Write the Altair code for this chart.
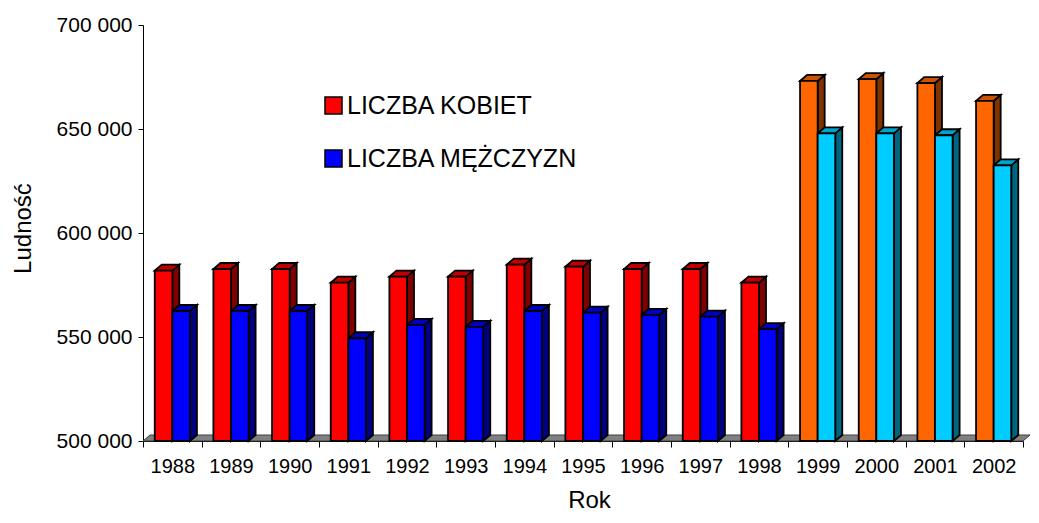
import altair as alt
import pandas as pd

years = list(range(1988, 2003))
kobiety = [581900, 582700, 582700, 576100, 579000, 579000, 584800, 583800,
           582700, 582700, 576100, 673100, 674000, 672100, 663500]
mezczyzni = [562500, 562500, 562500, 549400, 555800, 554900, 562500, 561700,
             560600, 559800, 553800, 647900, 647900, 647000, 632500]
series_names = ["LICZBA KOBIET", "LICZBA MĘŻCZYZN"]
y_ticks = [500000, 550000, 600000, 650000, 700000]

rows = []
for i, yr in enumerate(years):
    rows.append({"i": i, "year": yr, "series": series_names[0], "s": 0, "value": kobiety[i]})
    rows.append({"i": i, "year": yr, "series": series_names[1], "s": 1, "value": mezczyzni[i]})
df = pd.DataFrame(rows)
floor_df = pd.DataFrame({"vv": [0, 1]})

N = len(years)
W, H = 880, 416
BASE = 500000
DX = 7 / (W / N)          # depth in category units
DY = 6 / (H / 200000)     # depth in value units
BAR_START = 0.2
BAR_W = 0.3
SW = 1.8

grp_domain = series_names + [s + " (1999+)" for s in series_names]
front_colors = ["#FF0000", "#0000FF", "#FF6600", "#00CCFF"]
top_colors = ["#C00000", "#0000C0", "#CC5200", "#00A3CC"]
side_colors = ["#800000", "#000080", "#803300", "#006680"]

xscale = alt.Scale(domain=[0, N], nice=False, zero=False)
yscale = alt.Scale(domain=[BASE, 700000], nice=False, zero=False)

xaxis = alt.Axis(
    values=list(range(N + 1)),
    labelExpr=f"datum.value < {N} ? '' + ({years[0]} + datum.value) : ''",
    labelOffset=W / N / 2, labelOverlap=False, labelFlush=False, labelBound=False,
    labelFontSize=20, labelPadding=9, tickSize=6, grid=False,
    domainColor="black", tickColor="black", labelColor="black",
    title="Rok", titleFontSize=24, titleFontWeight="normal", titleColor="black",
    titleX=446, titleY=66, titleAlign="center", titleBaseline="alphabetic",
)
yaxis = alt.Axis(
    values=y_ticks,
    labelExpr="format(floor(datum.value/1000),'d') + ' 000'",
    labelFontSize=21, labelPadding=6, tickSize=5, grid=False,
    domainColor="black", tickColor="black", labelColor="black",
    title="Ludność", titleFontSize=24, titleFontWeight="normal", titleColor="black",
    titleX=-120, titleY=203, titleAngle=-90, titleAlign="center", titleBaseline="middle",
)

base = alt.Chart(df).transform_calculate(
    grp=f"datum.year >= 1999 ? datum.series + ' (1999+)' : datum.series",
    x0=f"datum.i + {BAR_START} + datum.s * {BAR_W}",
    x1=f"datum.i + {BAR_START} + (datum.s + 1) * {BAR_W}",
    b0=f"{BASE}",
    key="datum.year + '-' + datum.series",
)

folded = base.transform_calculate(va="0", vb="1").transform_fold(["va", "vb"], as_=["vk", "vv"])

floor = alt.Chart(floor_df).transform_calculate(
    fy=f"{BASE} + datum.vv * {DY}",
    fx=f"datum.vv * {DX}",
    fx2=f"{N} + datum.vv * {DX}",
).mark_area(orient="horizontal", color="#808080", stroke="#404040", strokeWidth=1).encode(
    y=alt.Y("fy:Q", scale=yscale, axis=yaxis),
    x=alt.X("fx:Q", scale=xscale, axis=xaxis),
    x2="fx2:Q",
)

side = folded.transform_calculate(
    sx=f"datum.x1 + datum.vv * {DX}",
    sy=f"datum.value + datum.vv * {DY}",
    sy2=f"{BASE} + datum.vv * {DY}",
).mark_area(stroke="black", strokeWidth=SW, opacity=1).encode(
    x=alt.X("sx:Q", scale=xscale, axis=xaxis),
    y=alt.Y("sy:Q", scale=yscale, axis=yaxis),
    y2="sy2:Q",
    detail="key:N",
    color=alt.Color("grp:N", scale=alt.Scale(domain=grp_domain, range=side_colors), legend=None),
)

top = folded.transform_calculate(
    ty=f"datum.value + datum.vv * {DY}",
    tx=f"datum.x0 + datum.vv * {DX}",
    tx2=f"datum.x1 + datum.vv * {DX}",
).mark_area(orient="horizontal", stroke="black", strokeWidth=SW, opacity=1).encode(
    y=alt.Y("ty:Q", scale=yscale, axis=yaxis),
    x=alt.X("tx:Q", scale=xscale, axis=xaxis),
    x2="tx2:Q",
    detail="key:N",
    color=alt.Color("grp:N", scale=alt.Scale(domain=grp_domain, range=top_colors), legend=None),
)

front = base.mark_rect(stroke="black", strokeWidth=SW, opacity=1).encode(
    x=alt.X("x0:Q", scale=xscale, axis=xaxis),
    x2="x1:Q",
    y=alt.Y("value:Q", scale=yscale, axis=yaxis),
    y2="b0:Q",
    color=alt.Color(
        "grp:N",
        scale=alt.Scale(domain=grp_domain, range=front_colors),
        legend=alt.Legend(
            values=series_names, orient="none", legendX=178, legendY=68,
            title=None, symbolType="square", symbolSize=289,
            symbolStrokeColor="black", symbolStrokeWidth=1.5, symbolOpacity=1,
            labelFontSize=25, labelOffset=1, rowPadding=27, padding=0,
            labelColor="black", labelLimit=400,
        ),
    ),
)

chart = alt.layer(floor, side, top, front).resolve_scale(color="independent").properties(
    width=W, height=H,
    autosize=alt.AutoSizeParams(type="none"),
    padding={"left": 135, "top": 17, "right": 8, "bottom": 74},
).configure(font="Liberation Sans").configure_view(stroke=None)

chart.save("out.html", embed_options={"renderer": "svg", "actions": False})
